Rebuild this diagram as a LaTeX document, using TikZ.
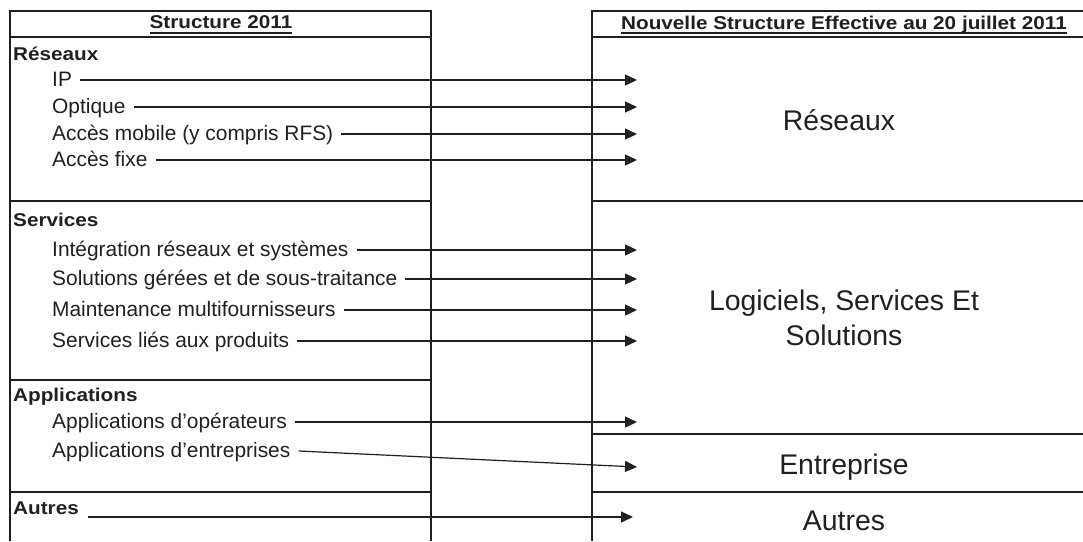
\documentclass[tikz,border=0pt]{standalone}
\usepackage{fontspec}
\setmainfont{Liberation Sans}[BoldFeatures={FakeStretch=1.12}]
\usetikzlibrary{arrows.meta}
\definecolor{ink}{HTML}{231F20}
\newcommand{\ulhdr}[1]{\setbox0\hbox{#1}\rlap{\rule[-5pt]{\wd0}{1.6pt}}\box0}
\begin{document}
\begin{tikzpicture}[x=1pt,y=-1pt,
  frame/.style={draw=ink,line width=1.5pt},
  arr/.style={draw=ink,line width=1.2pt,-{Triangle[length=12pt,width=11pt]}},
  item/.style={anchor=base west,inner sep=0pt,text=ink,font=\fontsize{20.9}{24}\selectfont},
  cat/.style={anchor=base west,inner sep=0pt,text=ink,font=\fontsize{18.5}{22}\selectfont\bfseries},
  hdr/.style={anchor=base,inner sep=0pt,text=ink,font=\fontsize{18.5}{22}\selectfont\bfseries},
  big/.style={inner sep=0pt,text=ink,font=\fontsize{28.4}{35}\selectfont,align=center}]
\useasboundingbox (0,0) rectangle (1083,541);
% frames
\draw[frame] (10,541) -- (10,11) -- (431,11) -- (431,541);
\draw[frame] (10,37) -- (431,37);
\draw[frame] (10,201) -- (431,201);
\draw[frame] (10,380) -- (431,380);
\draw[frame] (10,492) -- (431,492);
\draw[frame] (592,541) -- (592,11) -- (1083,11);
\draw[frame] (592,37) -- (1083,37);
\draw[frame] (592,201) -- (1083,201);
\draw[frame] (592,434) -- (1083,434);
\draw[frame] (592,492) -- (1083,492);
% headers
\node[hdr] (h1) at (221,28.5) {\ulhdr{Structure 2011}};
\node[hdr] (h2) at (844,29) {\ulhdr{Nouvelle Structure Effective au 20 juillet 2011}};
% categories
\node[cat] (cRes) at (13,60) {Réseaux};
\node[cat] (cSer) at (13,226) {Services};
\node[cat] (cApp) at (13,401) {Applications};
\node[cat] (cAut) at (13,514) {Autres};
% items
\node[item] (ip) at (52,86) {IP};
\node[item] (opt) at (52,113) {Optique};
\node[item] (mob) at (52,140) {Accès mobile (y compris RFS)};
\node[item] (fix) at (52,166) {Accès fixe};
\node[item] (integ) at (52,256) {Intégration réseaux et systèmes};
\node[item] (sol) at (52,285) {Solutions gérées et de sous-traitance};
\node[item] (maint) at (52,316) {Maintenance multifournisseurs};
\node[item] (serv) at (52,347) {Services liés aux produits};
\node[item] (aop) at (52,428) {Applications d’opérateurs};
\node[item] (aent) at (52,457) {Applications d’entreprises};
% right side
\node[big,anchor=base] (rRes) at (839,130) {Réseaux};
\node[big,anchor=north] (rLog) at (844,289.5) {Logiciels, Services Et\\Solutions};
\node[big,anchor=base] (rEnt) at (844,474) {Entreprise};
\node[big,anchor=base] (rAut) at (844,530) {Autres};
% arrow ends
\coordinate (tIP) at (637,80);
\coordinate (tOpt) at (637,107);
\coordinate (tMob) at (637,134);
\coordinate (tFix) at (637,160);
\coordinate (tInt) at (637,250);
\coordinate (tSol) at (637,279);
\coordinate (tMai) at (637,310);
\coordinate (tSer) at (637,341);
\coordinate (tAop) at (637,422);
\coordinate (tAent) at (637,467);
\coordinate (tAut) at (633,517);
% connectors
\draw[arr] ([xshift=8pt,yshift=6pt]ip.base east) -- (tIP);
\draw[arr] ([xshift=8pt,yshift=6pt]opt.base east) -- (tOpt);
\draw[arr] ([xshift=8pt,yshift=6pt]mob.base east) -- (tMob);
\draw[arr] ([xshift=8pt,yshift=6pt]fix.base east) -- (tFix);
\draw[arr] ([xshift=8pt,yshift=6pt]integ.base east) -- (tInt);
\draw[arr] ([xshift=8pt,yshift=6pt]sol.base east) -- (tSol);
\draw[arr] ([xshift=8pt,yshift=6pt]maint.base east) -- (tMai);
\draw[arr] ([xshift=8pt,yshift=6pt]serv.base east) -- (tSer);
\draw[arr] ([xshift=8pt,yshift=6pt]aop.base east) -- (tAop);
\draw[arr] ([xshift=8pt,yshift=6pt]aent.base east) -- (tAent);
\draw[arr] ([xshift=9pt,yshift=-3pt]cAut.base east) -- (tAut);
\end{tikzpicture}
\end{document}
